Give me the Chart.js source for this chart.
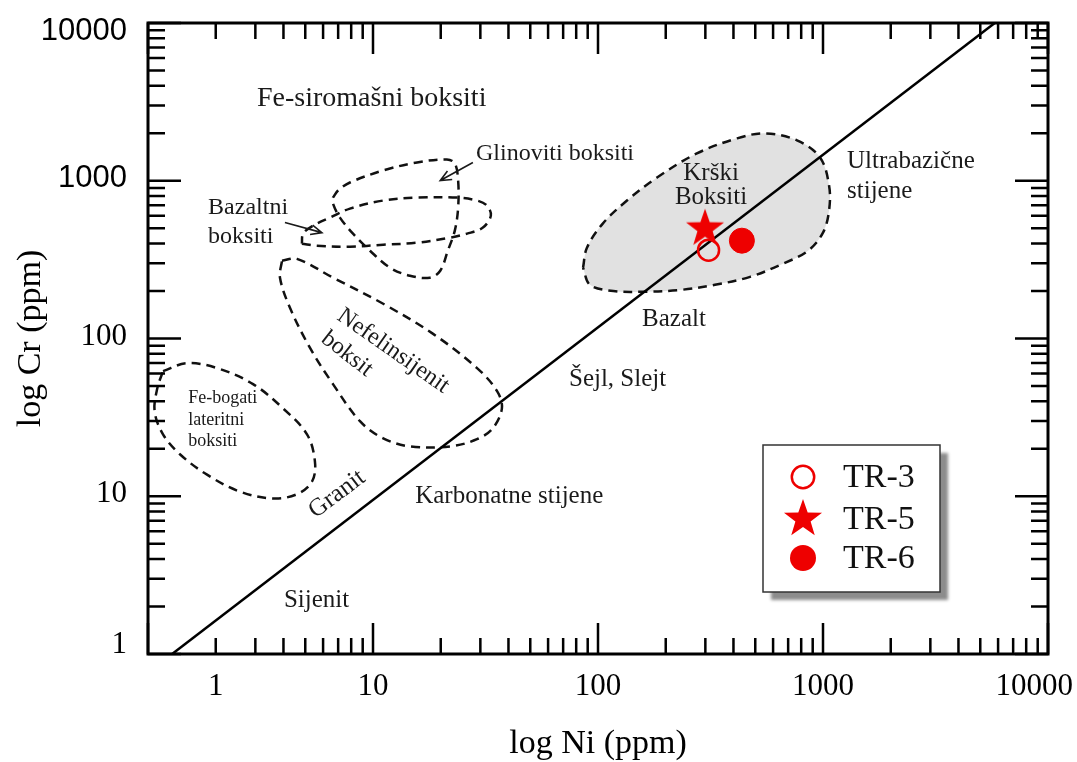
<!DOCTYPE html>
<html lang="hr">
<head>
<meta charset="utf-8">
<title>log Cr - log Ni</title>
<script src="https://cdn.jsdelivr.net/npm/chart.js@4.4.1/dist/chart.umd.min.js"></script>
<style>
  html, body { margin: 0; padding: 0; background: #fff; }
  canvas { display: block; }
</style>
</head>
<body>
<canvas id="chart" width="1077" height="762"></canvas>
<script>
// =========================
// Osi (log Ni / log Cr)
// =========================
const xMin = 1, xMax = 10000;
const yMin = 1, yMax = 10000;
// the source figure prints "1" under the Ni = 2 tick, kept as drawn
const xTickValues = [2, 10, 100, 1000, 10000];
const xTickLabels = ["1", "10", "100", "1000", "10000"];
const yTickValues = [1, 10, 100, 1000, 10000];
const yTickLabels = ["1", "10", "100", "1000", "10000"];

// =========================
// Uzorci
// =========================
const sampleNames = ["TR-3", "TR-5", "TR-6"];
const sampleNi = [310, 299, 436];
const sampleCr = [363, 497, 417];

// Granit - Bazalt - Ultrabazične stijene line
const trendNi = [1.28, 5800];
const trendCr = [1, 10000];

// =========================
// Polja (closed outlines, Ni / Cr)
// =========================
const krskiNi = [85.8, 89.3, 105, 134.5, 183, 275, 415, 552, 766, 970, 1064, 1064, 1000, 858, 664, 474, 331, 231, 162, 117, 92.1, 85.8];
const krskiCr = [281, 376, 535, 749, 1049, 1490, 1857, 1997, 1803, 1406, 933, 647, 469, 360, 298, 246, 219, 203, 198, 200, 219, 281];

const glinNi = [6.64, 6.99, 7.9, 11.1, 15.7, 21.3, 23.1, 23.9, 23.9, 23.1, 21.5, 19.9, 17.9, 14.6, 11.9, 9.7, 8.15, 7.13, 6.64, 6.64];
const glinCr = [782, 867, 975, 1162, 1306, 1365, 1288, 1004, 676, 483, 360, 269, 243, 250, 281, 360, 462, 584, 717, 782];

const bazNi = [4.83, 5.64, 7.9, 11.1, 15.7, 22.0, 26.2, 30.8, 33.4, 32.1, 29.0, 23.6, 15.7, 11.1, 7.9, 6.44, 5.41, 4.89, 4.83];
const bazCr = [399, 387, 382, 393, 405, 436, 462, 505, 601, 696, 749, 782, 782, 749, 666, 584, 519, 462, 399];

const nefNi = [3.94, 4.59, 6.64, 11.1, 18.5, 29.0, 35.6, 37.4, 34.1, 29.0, 22.0, 14.6, 11.1, 8.75, 6.64, 5.25, 4.28, 3.86, 3.94];
const nefCr = [311, 320, 243, 166, 107, 64.9, 46.4, 36.1, 27.0, 23.0, 20.7, 20.7, 23.3, 29.9, 51.4, 87.1, 156, 243, 311];

const febNi = [1.166, 1.49, 2.03, 2.93, 3.98, 5.09, 5.52, 5.36, 4.59, 3.59, 2.56, 1.83, 1.39, 1.166, 1.07, 1.10, 1.166];
const febCr = [62.1, 69.8, 64.9, 51.4, 36.1, 24.7, 16.6, 12.4, 10.3, 9.68, 10.7, 13.7, 18.4, 24.7, 34.6, 48.4, 62.1];

// =========================
// Natpisi (anchor in Ni / Cr)
// =========================
const notes = [
  { lines: ["Fe-siromašni boksiti"], ni: 3.05, cr: 2965, size: 28 },
  { lines: ["Glinoviti boksiti"], ni: 28.7, cr: 1345, size: 24 },
  { lines: ["Bazaltni", "boksiti"], ni: 1.85, cr: 619, size: 24, lh: 29 },
  { lines: ["Krški", "Boksiti"], ni: 318, cr: 1004, size: 25, lh: 24, align: "center" },
  { lines: ["Ultrabazične", "stijene"], ni: 1279, cr: 1197, size: 25, lh: 30 },
  { lines: ["Bazalt"], ni: 157, cr: 120, size: 25 },
  { lines: ["Šejl, Slejt"], ni: 74.3, cr: 49.9, size: 25 },
  { lines: ["Karbonatne stijene"], ni: 15.4, cr: 9.0, size: 25 },
  { lines: ["Sijenit"], ni: 4.02, cr: 1.99, size: 25 },
  { lines: ["Granit"], ni: 6.92, cr: 10.3, size: 25, align: "center", base: "middle", rot: -37 },
  { lines: ["Nefelinsijenit"], ni: 12.3, cr: 83.3, size: 24, align: "center", base: "middle", rot: 35 },
  { lines: ["boksit"], ni: 7.66, cr: 79.7, size: 24, align: "center", base: "middle", rot: 38 },
  { lines: ["Fe-bogati", "lateritni", "boksiti"], ni: 1.51, cr: 38.9, size: 18, lh: 21.5 }
];

const arrows = [
  { from: [4.06, 543], to: [5.93, 469] },
  { from: [27.8, 1306], to: [19.9, 1004] }
];

// =========================
// Stil
// =========================
const RED = "#ee0000";
const SERIF = '"Liberation Serif", "Times New Roman", serif';
const SANS = '"Liberation Sans", Arial, sans-serif';

function makeStar(r, color) {
  const c = document.createElement("canvas");
  const s = Math.ceil(r * 2) + 2;
  c.width = s; c.height = s;
  const g = c.getContext("2d");
  g.beginPath();
  for (let i = 0; i < 10; i++) {
    const rad = i % 2 === 0 ? r : r * 0.4;
    const a = -Math.PI / 2 + i * Math.PI / 5;
    const px = s / 2 + rad * Math.cos(a), py = s / 2 + rad * Math.sin(a);
    if (i === 0) g.moveTo(px, py); else g.lineTo(px, py);
  }
  g.closePath();
  g.fillStyle = color;
  g.fill();
  return c;
}
const starImg = makeStar(20, RED);

const pts = (xs, ys) => xs.map((v, i) => ({ x: v, y: ys[i] }));

const fieldStyle = {
  showLine: true,
  pointRadius: 0,
  borderColor: "#111",
  borderWidth: 2.5,
  borderDash: [9, 6],
  tension: 0.35,
  fill: false
};

// =========================
// Osi, natpisi, legenda (plugin)
// =========================
function isDecade(v) {
  const l = Math.log10(v);
  return Math.abs(l - Math.round(l)) < 1e-9;
}
function tickValues(min, max) {
  const out = [];
  for (let d = min; d < max; d *= 10) {
    for (let k = 1; k < 10; k++) out.push(k * d);
  }
  out.push(max);
  return out;
}

function drawArrow(ctx, x0, y0, x1, y1) {
  const a = Math.atan2(y1 - y0, x1 - x0);
  const L = 12, w = 0.42;
  ctx.beginPath();
  ctx.moveTo(x0, y0); ctx.lineTo(x1, y1);
  ctx.moveTo(x1 - L * Math.cos(a - w), y1 - L * Math.sin(a - w));
  ctx.lineTo(x1, y1);
  ctx.lineTo(x1 - L * Math.cos(a + w), y1 - L * Math.sin(a + w));
  ctx.stroke();
}

const frame = {
  id: "frame",
  afterDraw(chart) {
    const { ctx, chartArea: a, scales: { x, y } } = chart;
    ctx.save();

    // 1. natpisi u polju
    ctx.fillStyle = "#1a1a1a";
    notes.forEach(n => {
      ctx.save();
      ctx.translate(x.getPixelForValue(n.ni), y.getPixelForValue(n.cr));
      if (n.rot) ctx.rotate(n.rot * Math.PI / 180);
      ctx.font = `${n.size}px ${SERIF}`;
      ctx.textAlign = n.align || "left";
      ctx.textBaseline = n.base || "alphabetic";
      n.lines.forEach((t, i) => ctx.fillText(t, 0, i * (n.lh || 0)));
      ctx.restore();
    });

    ctx.strokeStyle = "#1a1a1a";
    ctx.lineWidth = 1.6;
    arrows.forEach(ar => {
      drawArrow(ctx,
        x.getPixelForValue(ar.from[0]), y.getPixelForValue(ar.from[1]),
        x.getPixelForValue(ar.to[0]), y.getPixelForValue(ar.to[1]));
    });

    // 2. crtice na osima (inward, all four sides)
    ctx.strokeStyle = "#000";
    ctx.lineWidth = 2.5;
    ctx.beginPath();
    tickValues(xMin, xMax).forEach(v => {
      const px = x.getPixelForValue(v);
      const len = isDecade(v) ? 31 : 16;
      ctx.moveTo(px, a.bottom); ctx.lineTo(px, a.bottom - len);
      ctx.moveTo(px, a.top); ctx.lineTo(px, a.top + len);
    });
    tickValues(yMin, yMax).forEach(v => {
      const py = y.getPixelForValue(v);
      const len = isDecade(v) ? 33 : 17;
      ctx.moveTo(a.left, py); ctx.lineTo(a.left + len, py);
      ctx.moveTo(a.right, py); ctx.lineTo(a.right - len, py);
    });
    ctx.stroke();

    ctx.lineWidth = 3;
    ctx.strokeRect(a.left, a.top, a.right - a.left, a.bottom - a.top);

    // 3. oznake na osima
    ctx.fillStyle = "#000";
    ctx.textBaseline = "middle";
    ctx.textAlign = "right";
    yTickValues.forEach((v, i) => {
      ctx.font = v >= 1000 ? `31px ${SANS}` : `31px ${SERIF}`;
      const py = Math.min(Math.max(y.getPixelForValue(v) - 2, a.top + 8), a.bottom - 9);
      ctx.fillText(yTickLabels[i], a.left - 21, py);
    });
    ctx.textAlign = "center";
    ctx.font = `31px ${SERIF}`;
    xTickValues.forEach((v, i) => {
      const w = ctx.measureText(xTickLabels[i]).width;
      const px = Math.min(x.getPixelForValue(v), chart.width - 4 - w / 2);
      ctx.fillText(xTickLabels[i], px, a.bottom + 33);
    });

    // 4. naslovi osi
    ctx.font = `34px ${SERIF}`;
    ctx.textBaseline = "alphabetic";
    ctx.fillText("log Ni (ppm)", (a.left + a.right) / 2, a.bottom + 99);
    ctx.save();
    ctx.translate(40, (a.top + a.bottom) / 2);
    ctx.rotate(-Math.PI / 2);
    ctx.fillText("log Cr (ppm)", 0, 0);
    ctx.restore();

    // 5. legenda
    const lb = { x: 763, y: 445, w: 177, h: 147 };
    ctx.save();
    ctx.shadowColor = "rgba(0,0,0,0.45)";
    ctx.shadowOffsetX = 8;
    ctx.shadowOffsetY = 8;
    ctx.shadowBlur = 3;
    ctx.fillStyle = "#fff";
    ctx.fillRect(lb.x, lb.y, lb.w, lb.h);
    ctx.restore();
    ctx.strokeStyle = "#333";
    ctx.lineWidth = 1.5;
    ctx.strokeRect(lb.x, lb.y, lb.w, lb.h);

    const mx = lb.x + 40, tx = lb.x + 80;
    const rowY = [lb.y + 32, lb.y + 74, lb.y + 113];
    ctx.strokeStyle = RED;
    ctx.lineWidth = 2.5;
    ctx.beginPath(); ctx.arc(mx, rowY[0], 11.2, 0, Math.PI * 2); ctx.stroke();
    ctx.drawImage(starImg, mx - starImg.width / 2, rowY[1] - starImg.height / 2);
    ctx.fillStyle = RED;
    ctx.beginPath(); ctx.arc(mx, rowY[2], 13, 0, Math.PI * 2); ctx.fill();

    ctx.fillStyle = "#111";
    ctx.font = `34px ${SERIF}`;
    ctx.textAlign = "left";
    ctx.textBaseline = "middle";
    sampleNames.forEach((s, i) => ctx.fillText(s, tx, rowY[i] + 1));

    ctx.restore();
  }
};

// =========================
// Grafikon
// =========================
new Chart(document.getElementById("chart"), {
  type: "scatter",
  data: {
    datasets: [
      { label: sampleNames[0], data: [{ x: sampleNi[0], y: sampleCr[0] }], pointStyle: "circle",
        pointRadius: 10.5, pointBorderWidth: 2.5, pointBorderColor: RED, pointBackgroundColor: "rgba(0,0,0,0)", order: 0 },
      { label: sampleNames[1], data: [{ x: sampleNi[1], y: sampleCr[1] }], pointStyle: starImg,
        pointRadius: 20, order: 0 },
      { label: sampleNames[2], data: [{ x: sampleNi[2], y: sampleCr[2] }], pointStyle: "circle",
        pointRadius: 12.5, pointBorderWidth: 1, pointBorderColor: RED, pointBackgroundColor: RED, order: 0 },
      { label: "granica", data: pts(trendNi, trendCr), showLine: true, pointRadius: 0,
        borderColor: "#000", borderWidth: 2.5, tension: 0, order: 1 },
      { label: "Glinoviti boksiti", data: pts(glinNi, glinCr), ...fieldStyle, order: 2 },
      { label: "Bazaltni boksiti", data: pts(bazNi, bazCr), ...fieldStyle, order: 2 },
      { label: "Nefelinsijenit boksit", data: pts(nefNi, nefCr), ...fieldStyle, order: 2 },
      { label: "Fe-bogati lateritni boksiti", data: pts(febNi, febCr), ...fieldStyle, order: 2 },
      { label: "Krški boksiti", data: pts(krskiNi, krskiCr), ...fieldStyle, fill: "shape",
        backgroundColor: "#e1e1e1", order: 3 }
    ]
  },
  options: {
    responsive: false,
    animation: false,
    events: [],
    layout: { padding: { left: 148, top: 23, right: 29, bottom: 108 } },
    scales: {
      x: { type: "logarithmic", min: xMin, max: xMax, display: false },
      y: { type: "logarithmic", min: yMin, max: yMax, display: false }
    },
    plugins: {
      legend: { display: false },
      tooltip: { enabled: false }
    }
  },
  plugins: [frame]
});
</script>
</body>
</html>
